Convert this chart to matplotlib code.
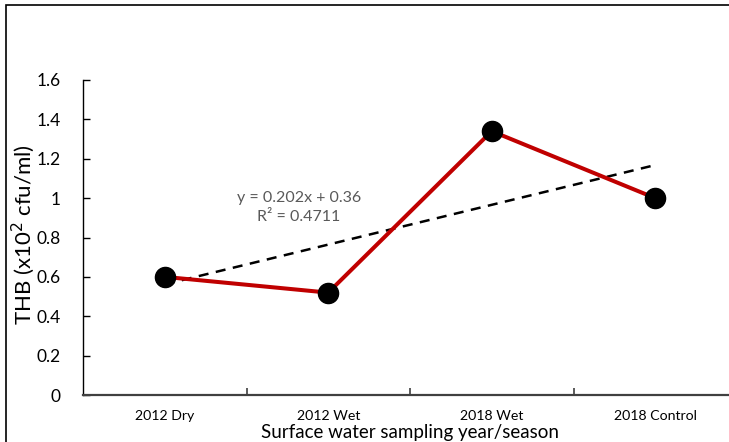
import matplotlib
matplotlib.use("Agg")
import matplotlib.pyplot as plt
from matplotlib.patches import Rectangle
import numpy as np

categories = ["2012 Dry", "2012 Wet", "2018 Wet", "2018 Control"]
thb = [0.60, 0.52, 1.34, 1.00]
slope, intercept, r2 = 0.202, 0.36, 0.4711
y_ticks = [0, 0.2, 0.4, 0.6, 0.8, 1, 1.2, 1.4, 1.6]
y_tick_labels = ["0", "0.2", "0.4", "0.6", "0.8", "1", "1.2", "1.4", "1.6"]

plt.rcParams["font.family"] = ["Lato", "DejaVu Sans"]

W, H = 729, 442
fig = plt.figure(figsize=(W / 100, H / 100), dpi=100)

# outer chart frame
fig.patches.append(Rectangle((6 / W, -0.1), 1.2, (H - 5) / H + 0.1,
                             transform=fig.transFigure, fill=False,
                             edgecolor="black", linewidth=1.2))

ax = fig.add_axes([83 / W, 47 / H, 654 / W, 315 / H])
x = np.arange(1, len(categories) + 1)

trend = slope * x + intercept
ax.plot(x, trend, linestyle=(0, (4, 3)), color="black", linewidth=1.8, zorder=2)
ax.plot(x, thb, color="#C00000", linewidth=2.9, zorder=3)
ax.plot(x, thb, linestyle="none", marker="o", markersize=14.5,
        color="black", zorder=4)

ax.set_xlim(0.5, len(categories) + 0.5)
ax.set_ylim(0, 1.6)
ax.set_yticks(y_ticks)
ax.set_yticklabels(y_tick_labels, fontsize=12.5)
ax.set_xticks(x)
ax.set_xticklabels(categories, fontsize=10.2)
ax.set_xticks(np.arange(1.5, len(categories), 1), minor=True)
ax.tick_params(axis="x", which="major", length=0, pad=11)
ax.tick_params(axis="x", which="minor", direction="in", length=5, width=1.2, color="#404040")
ax.tick_params(axis="y", direction="in", length=5, width=1.0, color="black", pad=16)

for side in ["top", "right"]:
    ax.spines[side].set_visible(False)
ax.spines["bottom"].set_color("#404040")
ax.spines["bottom"].set_linewidth(1.6)
ax.spines["left"].set_color("black")
ax.spines["left"].set_linewidth(1.0)

ax.set_ylabel("THB (x10$^2$ cfu/ml)", fontsize=16)
ax.yaxis.label.set_va("center")
ax.yaxis.set_label_coords(-0.091, 0.51)
ax.set_xlabel("Surface water sampling year/season", fontsize=13.5, labelpad=1)

ax.text(1.82, 0.95, f"y = {slope}x + {intercept}\nR² = {r2}", fontsize=11.5,
        color="#595959", ha="center", va="center", linespacing=1.45)

fig.savefig("out.png", dpi=100)
